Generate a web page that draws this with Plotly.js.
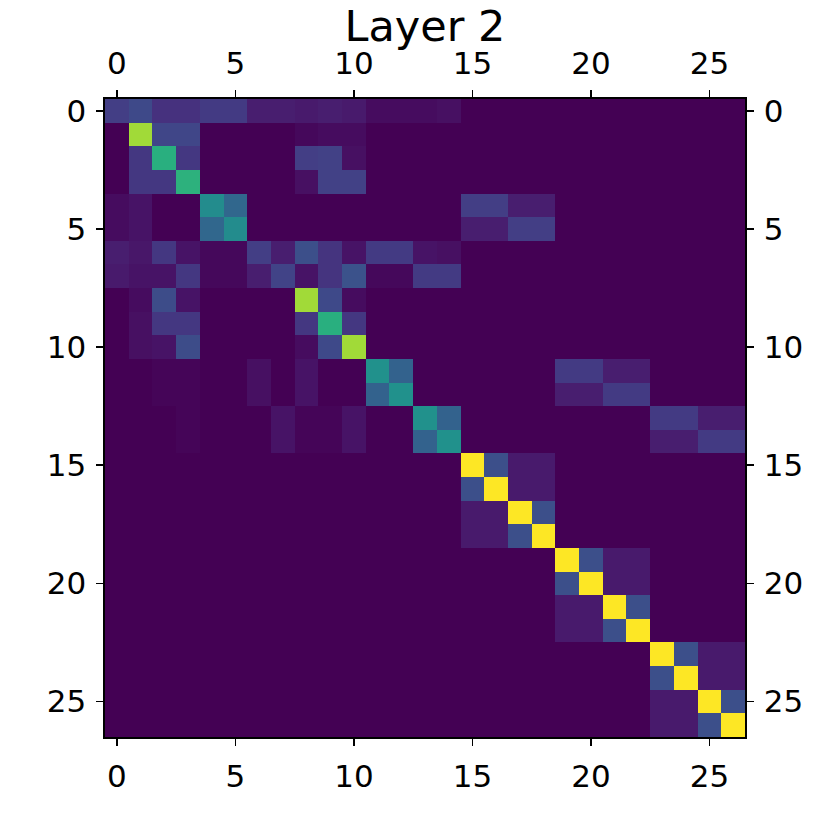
<!DOCTYPE html>
<html>
<head>
<meta charset="utf-8">
<script src="https://cdn.plot.ly/plotly-3.0.1.min.js"></script>
<style>
  html, body { margin: 0; padding: 0; background: #fff; }
  #chart { width: 830px; height: 830px; }
</style>
</head>
<body>
<div id="chart"></div>
<script>
// node indices along both axes
const nodes = Array.from({ length: 27 }, (_, i) => i);
const tickVals = [0, 5, 10, 15, 20, 25];
const tickText = ['0', '5', '10', '15', '20', '25'];

// attention / weight matrix (row = y, col = x)
const weights = [
  [0.18,0.22,0.14,0.14,0.17,0.17,0.08,0.08,0.07,0.08,0.07,0.03,0.03,0.03,0.04,0,0,0,0,0,0,0,0,0,0,0,0],
  [0,0.86,0.21,0.21,0,0,0,0,0.02,0.03,0.03,0,0,0,0,0,0,0,0,0,0,0,0,0,0,0,0],
  [0,0.16,0.63,0.16,0,0,0,0,0.18,0.19,0.04,0,0,0,0,0,0,0,0,0,0,0,0,0,0,0,0],
  [0,0.16,0.16,0.64,0,0,0,0,0.04,0.19,0.19,0,0,0,0,0,0,0,0,0,0,0,0,0,0,0,0],
  [0.03,0.05,0,0,0.48,0.33,0,0,0,0,0,0,0,0,0,0.18,0.18,0.08,0.08,0,0,0,0,0,0,0,0],
  [0.03,0.05,0,0,0.33,0.48,0,0,0,0,0,0,0,0,0,0.08,0.08,0.18,0.18,0,0,0,0,0,0,0,0],
  [0.08,0.06,0.16,0.05,0.02,0.02,0.18,0.08,0.24,0.15,0.05,0.17,0.17,0.05,0.04,0,0,0,0,0,0,0,0,0,0,0,0],
  [0.07,0.05,0.05,0.16,0.02,0.02,0.08,0.2,0.05,0.15,0.25,0.02,0.02,0.17,0.17,0,0,0,0,0,0,0,0,0,0,0,0],
  [0,0.03,0.23,0.05,0,0,0,0,0.86,0.22,0.03,0,0,0,0,0,0,0,0,0,0,0,0,0,0,0,0],
  [0,0.04,0.16,0.16,0,0,0,0,0.16,0.63,0.16,0,0,0,0,0,0,0,0,0,0,0,0,0,0,0,0],
  [0,0.04,0.05,0.23,0,0,0,0,0.03,0.22,0.86,0,0,0,0,0,0,0,0,0,0,0,0,0,0,0,0],
  [0,0,0.01,0.01,0,0,0.04,0,0.05,0,0,0.5,0.31,0,0,0,0,0,0,0.17,0.17,0.08,0.08,0,0,0,0],
  [0,0,0.01,0.01,0,0,0.04,0,0.05,0,0,0.31,0.5,0,0,0,0,0,0,0.08,0.08,0.17,0.17,0,0,0,0],
  [0,0,0,0.01,0,0,0,0.05,0.01,0.01,0.05,0,0,0.5,0.31,0,0,0,0,0,0,0,0,0.17,0.17,0.08,0.08],
  [0,0,0,0.01,0,0,0,0.05,0.01,0.01,0.05,0,0,0.31,0.5,0,0,0,0,0,0,0,0,0.08,0.08,0.17,0.17],
  [0,0,0,0,0,0,0,0,0,0,0,0,0,0,0,1,0.24,0.07,0.07,0,0,0,0,0,0,0,0],
  [0,0,0,0,0,0,0,0,0,0,0,0,0,0,0,0.24,1,0.07,0.07,0,0,0,0,0,0,0,0],
  [0,0,0,0,0,0,0,0,0,0,0,0,0,0,0,0.07,0.07,1,0.24,0,0,0,0,0,0,0,0],
  [0,0,0,0,0,0,0,0,0,0,0,0,0,0,0,0.07,0.07,0.24,1,0,0,0,0,0,0,0,0],
  [0,0,0,0,0,0,0,0,0,0,0,0,0,0,0,0,0,0,0,1,0.24,0.07,0.07,0,0,0,0],
  [0,0,0,0,0,0,0,0,0,0,0,0,0,0,0,0,0,0,0,0.24,1,0.07,0.07,0,0,0,0],
  [0,0,0,0,0,0,0,0,0,0,0,0,0,0,0,0,0,0,0,0.07,0.07,1,0.24,0,0,0,0],
  [0,0,0,0,0,0,0,0,0,0,0,0,0,0,0,0,0,0,0,0.07,0.07,0.24,1,0,0,0,0],
  [0,0,0,0,0,0,0,0,0,0,0,0,0,0,0,0,0,0,0,0,0,0,0,1,0.24,0.07,0.07],
  [0,0,0,0,0,0,0,0,0,0,0,0,0,0,0,0,0,0,0,0,0,0,0,0.24,1,0.07,0.07],
  [0,0,0,0,0,0,0,0,0,0,0,0,0,0,0,0,0,0,0,0,0,0,0,0.07,0.07,1,0.24],
  [0,0,0,0,0,0,0,0,0,0,0,0,0,0,0,0,0,0,0,0,0,0,0,0.07,0.07,0.24,1]
];

const font = 'DejaVu Sans, sans-serif';
const xRange = [-0.5, 26.5];
const yRange = [26.5, -0.5];

function axis(extra) {
    return Object.assign({
        tickvals: tickVals,
        ticktext: tickText,
        ticks: 'outside',
        ticklen: 7,
        tickwidth: 1.6,
        tickcolor: '#000',
        ticklabelstandoff: 4,
        tickfont: { family: font, size: 31, color: '#000' },
        showgrid: false,
        zeroline: false,
        showline: true,
        linecolor: '#000',
        linewidth: 1.6
    }, extra);
}

const data = [
    {
        type: 'heatmap',
        x: nodes,
        y: nodes,
        z: weights,
        zmin: 0,
        zmax: 1,
        colorscale: 'Viridis',
        showscale: false,
        hoverinfo: 'x+y+z'
    },
    {
        // empty trace so the mirrored axes are drawn
        type: 'scatter',
        x: [],
        y: [],
        xaxis: 'x2',
        yaxis: 'y2',
        showlegend: false
    }
];

const layout = {
    width: 830,
    height: 830,
    paper_bgcolor: '#fff',
    plot_bgcolor: '#fff',
    margin: { l: 105, r: 85, t: 99, b: 93 },
    title: {
        text: 'Layer 2',
        font: { family: font, size: 43, color: '#000' },
        x: 0.5,
        xanchor: 'center',
        xref: 'paper',
        y: 0.969,
        yref: 'container',
        yanchor: 'middle'
    },
    xaxis: axis({ range: xRange, side: 'bottom', mirror: true }),
    yaxis: axis({ range: yRange, side: 'left', mirror: true }),
    xaxis2: axis({ range: xRange, side: 'top', overlaying: 'x', anchor: 'y' }),
    yaxis2: axis({ range: yRange, side: 'right', overlaying: 'y', anchor: 'x' }),
    showlegend: false
};

Plotly.newPlot('chart', data, layout, { displayModeBar: false, staticPlot: true });
</script>
</body>
</html>
